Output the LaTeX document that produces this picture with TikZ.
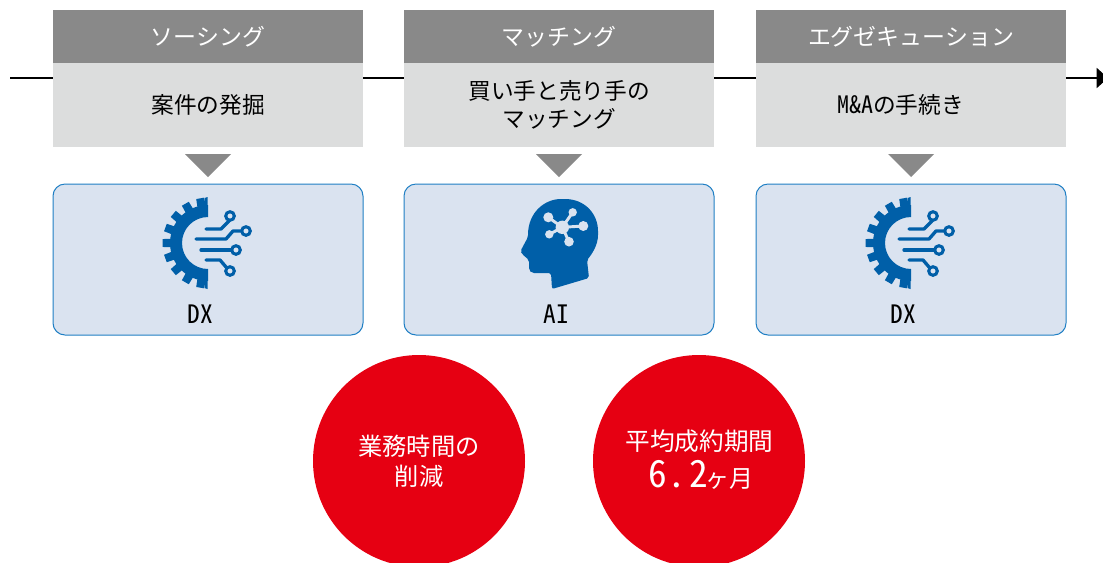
\documentclass[tikz,border=0pt]{standalone}
\usepackage{fontspec}
\usetikzlibrary{arrows.meta}
\setmainfont{Noto Sans CJK JP}
\newfontfamily\halfw[CharacterWidth=Half]{Noto Sans CJK JP}
\definecolor{hdr}{HTML}{898989}
\definecolor{bodyg}{HTML}{DCDDDD}
\definecolor{pale}{HTML}{DAE3F0}
\definecolor{edgeb}{HTML}{1F7FC4}
\definecolor{iconb}{HTML}{005FA8}
\definecolor{redc}{HTML}{E60012}
\tikzset{
  x=0.75pt,y=-0.75pt,
  hdrbox/.style={fill=hdr,draw=none,minimum width=232.5pt,minimum height=39.75pt,inner sep=0pt},
  bodybox/.style={fill=bodyg,draw=none,minimum width=232.5pt,minimum height=63pt,inner sep=0pt},
  toolbox/.style={fill=pale,draw=edgeb,line width=0.75pt,rounded corners=9pt,minimum width=232.5pt,minimum height=113.25pt,inner sep=0pt},
  hdrtext/.style={text=white,inner sep=0pt,font=\fontsize{17.2}{20}\selectfont},
  bodytext/.style={inner sep=0pt,align=center,font=\fontsize{17}{21}\selectfont},
  tooltext/.style={inner sep=0pt,font=\halfw\fontsize{19}{22}\selectfont},
  downtri/.style={fill=hdr,draw=none},
  bigcirc/.style={circle,fill=redc,draw=none,minimum size=159pt,inner sep=0pt},
  circtext/.style={text=white,inner sep=0pt,align=center},
  wire/.style={draw=iconb,line width=2.5pt,line cap=round,line join=round},
  ring/.style={draw=iconb,line width=2.3pt,fill=pale},
}
\newcommand{\gearicon}[2]{%
 \begin{scope}[shift={(#1,#2)}]
  \fill[iconb] (0,-38) arc[start angle=-90,end angle=-270,radius=38] -- (0,26) arc[start angle=90,end angle=270,radius=26] -- cycle;
  \foreach \a in {100,120,...,260}{
    \fill[iconb] ({\a-6.5}:37) -- ({\a-5}:45.5) -- ({\a+5}:45.5) -- ({\a+6.5}:37) -- cycle;
  }
  \fill[iconb] (-3.5,-37) -- (-3.5,-45) -- (-0.5,-46) -- (-0.5,-37) -- cycle;
  \fill[iconb] (-3.5,37) -- (-3.5,45) -- (-0.5,46) -- (-0.5,37) -- cycle;
  \draw[wire] (-2,-14) -- (13,-14) -- (21,-22);
  \draw[ring] (22,-27) circle[radius=4.3];
  \draw[wire] (-12,-4) -- (18,-4) -- (25,-12) -- (33,-12);
  \draw[ring] (38,-12) circle[radius=4.3];
  \draw[wire] (-7,7) -- (23,7);
  \draw[ring] (28,7) circle[radius=4.3];
  \draw[wire] (-2,17) -- (12,17) -- (18,24);
  \draw[ring] (22,28) circle[radius=4.3];
 \end{scope}}
\begin{document}
\begin{tikzpicture}
\useasboundingbox (0,0) rectangle (1103,562);
\coordinate (linestart) at (10,78);
\coordinate (lineend) at (1108,78);
\draw[line width=1.5pt,black,-{Triangle[length=8.5pt,width=15pt]}] (linestart) -- (lineend);
\foreach \n/\cx in {a/208,b/559,c/911}{
  \node[bodybox] (body\n) at (\cx,105) {};
  \node[hdrbox] (head\n) at (\cx,36.5) {};
  \fill[downtri] (\cx-23,154) -- (\cx+23,154) -- (\cx,177) -- cycle;
  \node[toolbox] (tool\n) at (\cx,259.5) {};
}
\node[hdrtext] (ha) at (208,37) {ソーシング};
\node[hdrtext] (hb) at (559,37) {マッチング};
\node[hdrtext] (hc) at (911,37) {エグゼキューション};
\node[bodytext] (ba) at (bodya) {案件の発掘};
\node[bodytext] (bb) at (bodyb) {買い手と売り手の\\マッチング};
\node[bodytext] (bc) at (900.5,105) {{\halfw\fontsize{18}{21}\selectfont M\&A}の手続き};
\gearicon{208}{243}
\gearicon{911}{243}
% head
\fill[iconb,rounded corners=1.5pt] (552,289) -- (551,273) -- (532,273) -- (529,270) -- (529,260) -- (522,254) -- (520.500,251)
  -- (528,237) .. controls (528,212) and (545,199) .. (563,199)
  .. controls (585,199) and (598,214) .. (598,233) .. controls (598,245) and (592,254) .. (587,260)
  -- (589,278) -- cycle;
\begin{scope}
 \coordinate (hubc) at (562.3,227.3);
 \draw[pale,line width=2.2pt] (hubc) -- (548.3,217.3) (hubc) -- (572.7,212.3) (hubc) -- (583.3,226) (hubc) -- (569,241.7) (hubc) -- (549.3,234.3);
 \fill[pale] (hubc) circle[radius=6.7];
 \fill[pale] (548.3,217.3) circle[radius=5];
 \fill[pale] (572.7,212.3) circle[radius=4.2];
 \fill[pale] (583.3,226) circle[radius=5];
 \fill[pale] (569,241.7) circle[radius=4.8];
 \fill[pale] (549.3,234.3) circle[radius=4.2];
\end{scope}
\node[tooltext] (dxa) at (200,314) {DX};
\node[tooltext] (aib) at (556,314) {AI};
\node[tooltext] (dxc) at (903,314) {DX};
\node[bigcirc] (circa) at (419,461) {};
\node[bigcirc] (circb) at (699,461) {};
\node[circtext,font=\fontsize{18.2}{22.5}\selectfont] (ta) at (419,461.500) {業務時間の\\削減};
\node[circtext,font=\fontsize{18.5}{25}\selectfont] (tb) at (699.5,441) {平均成約期間};
\node[circtext] (tc) at (701,475) {{\halfw\fontsize{28}{30}\selectfont 6.\kern2.2pt 2}\kern-2pt{\fontsize{18}{20}\selectfont ヶ月}};
\end{tikzpicture}
\end{document}
